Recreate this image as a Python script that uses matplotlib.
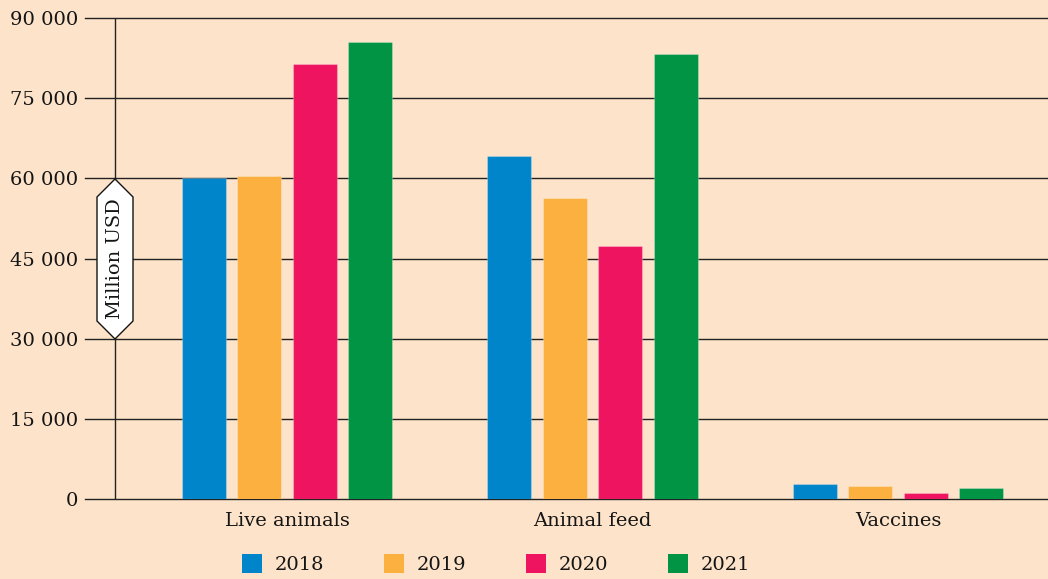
import numpy as np
import matplotlib
matplotlib.use("Agg")
import matplotlib.pyplot as plt
from matplotlib.patches import Polygon, Patch
from matplotlib.ticker import FuncFormatter

# === Data ===
categories = ["Live animals", "Animal feed", "Vaccines"]
years = ["2018", "2019", "2020", "2021"]
values_2018 = [60000, 64200, 2900]
values_2019 = [60500, 56300, 2500]
values_2020 = [81400, 47300, 1100]
values_2021 = [85500, 83300, 2000]
series = [values_2018, values_2019, values_2020, values_2021]
yticks = [0, 15000, 30000, 45000, 60000, 75000, 90000]

colors = ["#0085CA", "#FBB040", "#EE145F", "#009444"]
bg = "#FDE3C9"

plt.rcParams['font.family'] = ['DejaVu Serif']

W, H = 1048, 579
fig = plt.figure(figsize=(W / 100, H / 100), dpi=100, facecolor=bg)
ax = fig.add_axes([85 / W, 1 - 499 / H, (W - 85) / W, 481 / H])
ax.set_facecolor(bg)

x = np.arange(len(categories))
width = 0.144
step = 0.182
for i, (vals, c) in enumerate(zip(series, colors)):
    ax.bar(x + (i - 1.5) * step, vals, width, color=c, zorder=3,
           edgecolor=(1, 1, 1, 0.25), linewidth=0.8)

ax.set_xlim(-0.661, 2.491)
ax.set_ylim(0, 90000)
ax.set_yticks(yticks)
ax.yaxis.set_major_formatter(FuncFormatter(lambda v, p: f"{int(v):,}".replace(",", " ")))
ax.set_xticks(x)
ax.set_xticklabels(categories)
ax.tick_params(axis='both', length=0, labelsize=14, colors='#151515')
ax.tick_params(axis='y', pad=5)
ax.tick_params(axis='x', pad=9)
for s in ax.spines.values():
    s.set_visible(False)

ax.set_axisbelow(True)
for t in yticks:
    ax.axhline(t, color='#222222', lw=1.0, zorder=1, clip_on=False)
ax.axvline(-0.563, color='#222222', lw=1.0, zorder=2)

# y label badge (hexagon) between 30 000 and 60 000
cx, top, bot, hw = 115, 179, 339, 18
pts = [(cx, top), (cx + hw, top + hw), (cx + hw, bot - hw), (cx, bot),
       (cx - hw, bot - hw), (cx - hw, top + hw)]
pts = [(px / W, 1 - py / H) for px, py in pts]
fig.patches.append(Polygon(pts, closed=True, transform=fig.transFigure,
                           facecolor='white', edgecolor='#151515', lw=1.0, zorder=5))
fig.text(cx / W, 1 - (top + bot) / 2 / H, "Million USD", rotation=90,
         ha='center', va='center', fontsize=14, color='#151515', zorder=6)

# legend
handles = [Patch(facecolor=c, edgecolor='none') for c in colors]
fig.legend(handles, years, loc='center left', bbox_to_anchor=(242 / W, 1 - 564 / H),
           ncol=4, frameon=False, fontsize=14, borderpad=0, borderaxespad=0,
           handlelength=1.05, handleheight=1.1, handletextpad=0.65,
           columnspacing=3.05, labelcolor='#151515')

fig.savefig("out.png", dpi=100, facecolor=bg)
